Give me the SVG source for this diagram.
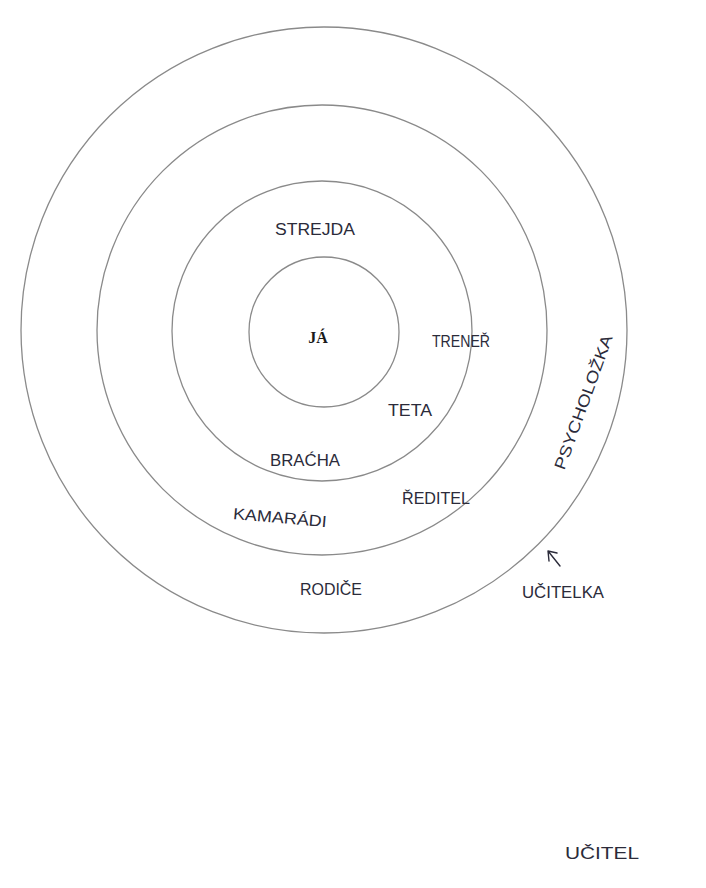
<svg xmlns="http://www.w3.org/2000/svg" width="706" height="888" viewBox="0 0 706 888">
<style>
.ring{fill:none;stroke:#8a8a8a;stroke-width:1.3}
.lbl{font-family:"Liberation Sans",Arial,sans-serif;font-size:16px;fill:#2b2b3a;text-anchor:middle}
.ja{font-family:"Liberation Serif","Times New Roman",serif;font-size:16px;font-weight:bold;fill:#1a1a1a;text-anchor:middle}
.arr{fill:none;stroke:#2b2b3a;stroke-width:1.4;stroke-linecap:round}
</style>
<rect width="706" height="888" fill="#ffffff"/>
<g id="rings">
<circle id="ring4" class="ring" cx="324" cy="330" r="303"/>
<circle id="ring3" class="ring" cx="322" cy="330" r="225"/>
<circle id="ring2" class="ring" cx="322" cy="331" r="150"/>
<circle id="ring1" class="ring" cx="324" cy="332" r="75"/>
</g>
<g id="ja"><text class="ja" x="318" y="343">JÁ</text></g>
<g id="strejda"><text class="lbl" x="315" y="235" textLength="80" lengthAdjust="spacingAndGlyphs">STREJDA</text></g>
<g id="trener"><text class="lbl" x="461" y="347" textLength="58" lengthAdjust="spacingAndGlyphs">TRENEŘ</text></g>
<g id="teta"><text class="lbl" x="410" y="416" textLength="44" lengthAdjust="spacingAndGlyphs">TETA</text></g>
<g id="bracha"><text class="lbl" x="305" y="466" textLength="70" lengthAdjust="spacingAndGlyphs">BRAĆHA</text></g>
<g id="kamaradi"><text class="lbl" x="280" y="523" textLength="94" lengthAdjust="spacingAndGlyphs" transform="rotate(5 280 517)">KAMARÁDI</text></g>
<g id="reditel"><text class="lbl" x="436" y="504" textLength="68" lengthAdjust="spacingAndGlyphs">ŘEDITEL</text></g>
<g id="rodice"><text class="lbl" x="331" y="595" textLength="62" lengthAdjust="spacingAndGlyphs">RODIČE</text></g>
<g id="psycholozka"><text class="lbl" x="583" y="408" textLength="142" lengthAdjust="spacingAndGlyphs" transform="rotate(-70 583 402)">PSYCHOLOŽKA</text></g>
<g id="ucitelka"><text class="lbl" x="563" y="598" textLength="82" lengthAdjust="spacingAndGlyphs">UČITELKA</text></g>
<g id="ucitel"><text class="lbl" x="602" y="859" textLength="74" lengthAdjust="spacingAndGlyphs">UČITEL</text></g>
<g id="connectors">
<path class="arr" d="M560 566 L548 551 M548 551 L549 561 M548 551 L557 553"/>
</g>
</svg>
